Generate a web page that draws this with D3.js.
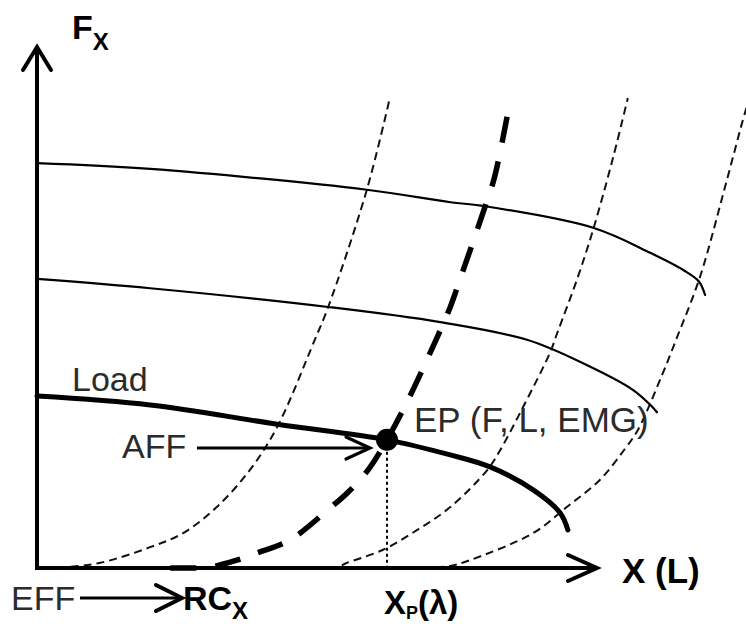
<!DOCTYPE html>
<html>
<head>
<meta charset="utf-8">
<script src="https://cdn.jsdelivr.net/npm/d3@7"></script>
<style>
  html, body { margin: 0; padding: 0; background: #fff; }
  text { font-family: "Liberation Sans", Arial, sans-serif; }
</style>
</head>
<body>
<div id="chart"></div>
<script>
// force-length curves (solid), [length, force]
const forceHigh = [[0, 7.77], [2.02, 7.66], [5.89, 7.26], [7.38, 7.02], [7.96, 6.95], [9.93, 6.53], [10.95, 6.05], [11.54, 5.72], [11.82, 5.5], [11.93, 5.24]];
const forceMid = [[0, 5.55], [2.02, 5.37], [5.2, 5.01], [7.2, 4.72], [8.75, 4.38], [9.75, 3.93], [10.64, 3.42], [10.98, 3.1], [11.07, 2.99]];
const loadCurve = [[0, 3.3], [2.02, 3.13], [4.29, 2.76], [6.25, 2.46], [7.38, 2.17], [8.09, 1.94], [8.86, 1.5], [9.34, 1.06], [9.48, 0.73]];

// invariant characteristics (dashed), [length, force]
const charA = [[0.14, 0], [0.54, 0.02], [1.13, 0.1], [2.02, 0.4], [2.61, 0.67], [3.21, 1.17], [3.8, 1.88], [4.29, 2.71], [4.96, 4.38], [5.2, 5.01], [5.89, 7.26], [6.3, 9.02]];
const charB = [[4.52, 0], [5.36, 0.02], [5.54, 0.1], [6.18, 0.35], [6.79, 0.73], [7.38, 1.17], [8.04, 1.88], [8.27, 2.26], [8.68, 3.09], [9.16, 4.13], [9.29, 4.51], [9.64, 5.53], [9.93, 6.49], [10.29, 7.89], [10.55, 9.02]];
const charC = [[6.66, 0], [7.38, 0.04], [7.73, 0.15], [8.86, 0.67], [9.46, 1.17], [10.05, 1.69], [10.48, 2.26], [10.73, 2.65], [11.16, 3.7], [11.43, 4.43], [11.84, 5.59], [12.32, 7.45], [12.64, 8.73], [12.77, 9.17]];
const charLoad = [[2.38, 0], [3.09, 0.02], [3.57, 0.15], [3.93, 0.29], [4.52, 0.54], [5.23, 1.15], [5.54, 1.44], [5.91, 1.88], [6.25, 2.46], [6.61, 3.19], [7.02, 4.13], [7.38, 5.01], [7.55, 5.53], [7.99, 6.9], [8.17, 7.5], [8.45, 8.98]];

const epPoint = [6.25, 2.46];

const width = 746, height = 627;

const svg = d3.select('#chart')
  .append('svg')
  .attr('width', width)
  .attr('height', height);

svg.append('rect').attr('width', width).attr('height', height).attr('fill', '#fff');

const x = d3.scaleLinear().domain([0, 10]).range([37, 597]);
const y = d3.scaleLinear().domain([0, 10]).range([568, 47]);

const line = d3.line()
  .x(d => x(d[0]))
  .y(d => y(d[1]))
  .curve(d3.curveCatmullRom.alpha(0.5));

// chevron arrow head at (tx,ty) pointing along angle
function chevron(g, tx, ty, angle, len, half, w) {
  const c = Math.cos(angle), s = Math.sin(angle);
  const p1 = [tx - len * c - half * s, ty - len * s + half * c];
  const p2 = [tx - len * c + half * s, ty - len * s - half * c];
  g.append('path')
    .attr('d', `M${p1}L${tx},${ty}L${p2}`)
    .attr('fill', 'none')
    .attr('stroke', '#000')
    .attr('stroke-width', w)
    .attr('stroke-linecap', 'round')
    .attr('stroke-linejoin', 'miter');
}

// thin dashed characteristics
svg.append('g')
  .selectAll('path')
  .data([charA, charB, charC])
  .join('path')
  .attr('d', line)
  .attr('fill', 'none')
  .attr('stroke', '#111')
  .attr('stroke-width', 2)
  .attr('stroke-dasharray', '8,5');

// thick dashed characteristic through EP
svg.append('path')
  .attr('d', line(charLoad))
  .attr('fill', 'none')
  .attr('stroke', '#000')
  .attr('stroke-width', 5.5)
  .attr('stroke-dasharray', '26,19');

// force-length curves
svg.append('g')
  .selectAll('path')
  .data([forceHigh, forceMid])
  .join('path')
  .attr('d', line)
  .attr('fill', 'none')
  .attr('stroke', '#000')
  .attr('stroke-width', 2.2)
  .attr('stroke-linecap', 'round');

svg.append('path')
  .attr('d', line(loadCurve))
  .attr('fill', 'none')
  .attr('stroke', '#000')
  .attr('stroke-width', 5)
  .attr('stroke-linecap', 'round');

// dotted drop line from EP
svg.append('line')
  .attr('x1', x(epPoint[0])).attr('x2', x(epPoint[0]))
  .attr('y1', y(epPoint[1])).attr('y2', y(0))
  .attr('stroke', '#000')
  .attr('stroke-width', 2)
  .attr('stroke-dasharray', '3,3');

// axes
const axes = svg.append('g');
axes.append('path')
  .attr('d', `M${x(0)},${y(10)}L${x(0)},${y(0)}L${x(10)},${y(0)}`)
  .attr('fill', 'none')
  .attr('stroke', '#000')
  .attr('stroke-width', 4);
chevron(axes, x(0), y(10), -Math.PI / 2, 23, 14, 4);
chevron(axes, x(10), y(0), 0, 29, 13, 4);

// EP dot
svg.append('circle')
  .attr('cx', x(epPoint[0]))
  .attr('cy', y(epPoint[1]))
  .attr('r', 11)
  .attr('fill', '#000');

// AFF arrow
const aff = svg.append('g');
aff.append('line')
  .attr('x1', 197).attr('x2', 370)
  .attr('y1', 448).attr('y2', 448)
  .attr('stroke', '#000').attr('stroke-width', 3);
chevron(aff, 370, 448, 0, 24, 11, 3.2);

// EFF arrow
const eff = svg.append('g');
eff.append('line')
  .attr('x1', 80).attr('x2', 182)
  .attr('y1', 598).attr('y2', 598)
  .attr('stroke', '#000').attr('stroke-width', 3);
chevron(eff, 182, 598, 0, 26, 13, 4);

// labels
const plain = '#2b2b2b';
svg.append('text').attr('x', 72).attr('y', 391)
  .style('font-size', '34px').attr('fill', plain).text('Load');
svg.append('text').attr('x', 122).attr('y', 458)
  .style('font-size', '34px').attr('fill', plain).text('AFF');
svg.append('text').attr('x', 414).attr('y', 432)
  .style('font-size', '35px').attr('fill', plain).text('EP (F, L, EMG)');
svg.append('text').attr('x', 11).attr('y', 610)
  .style('font-size', '34px').attr('fill', plain).text('EFF');

const fx = svg.append('text').attr('x', 72).attr('y', 39)
  .style('font-size', '34px').style('font-weight', 'bold');
fx.append('tspan').text('F');
fx.append('tspan').attr('dy', 11).style('font-size', '24px').text('X');

const rc = svg.append('text').attr('x', 183).attr('y', 610)
  .style('font-size', '34px').style('font-weight', 'bold');
rc.append('tspan').text('RC');
rc.append('tspan').attr('dy', 9).style('font-size', '24px').text('X');

svg.append('text').attr('x', 622).attr('y', 583)
  .style('font-size', '35px').style('font-weight', 'bold').text('X (L)');

const xp = svg.append('text').attr('x', 384).attr('y', 614)
  .style('font-size', '33px').style('font-weight', 'bold');
xp.append('tspan').text('X');
xp.append('tspan').attr('dy', 5).style('font-size', '18px').text('P');
xp.append('tspan').attr('dy', -5).text('(λ)');
</script>
</body>
</html>
